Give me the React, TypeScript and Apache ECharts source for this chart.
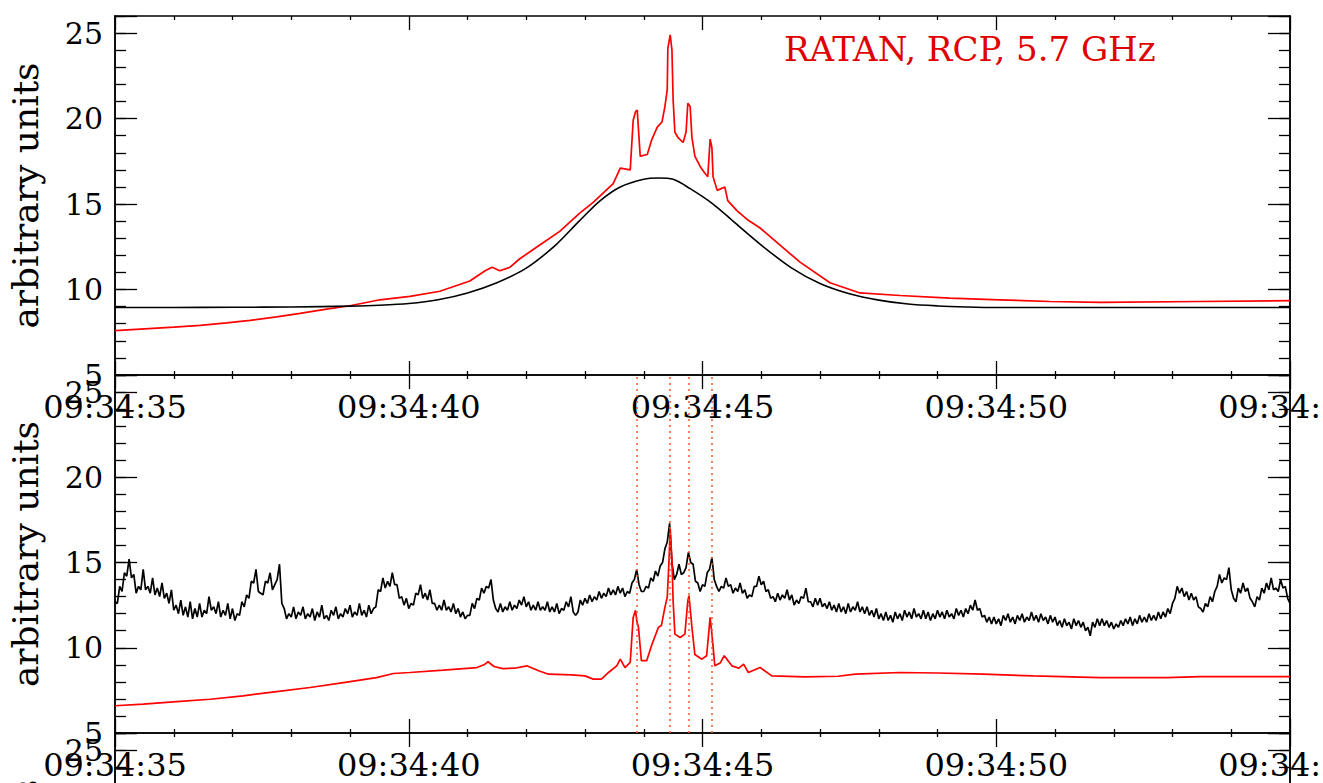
import React, { useEffect, useRef } from "react";
import * as echarts from "echarts";

// ---- axis ranges & ticks ----
const X_MIN = 35; // seconds after 09:34:00
const X_MAX = 55;
const X_INTERVAL = 5;
const Y_MIN = 5;
const Y_MAX = 26;
const Y_MAJOR = 5;
const Y_MINOR = 1;
const TIME_PREFIX = "09:34:";

const titleText = "RATAN, RCP, 5.7 GHz";
const yName = "arbitrary units";

// ---- top panel: RCP flux (red) and smooth fit (black) [t, value] ----
const topRed: [number, number][] = [
  [35.0, 7.6], [35.5, 7.7], [36.0, 7.8], [36.45, 7.9], [36.9, 8.05], [37.3, 8.2],
  [37.75, 8.4], [38.15, 8.6], [38.6, 8.85], [39.0, 9.05], [39.51, 9.4], [40.02, 9.6],
  [40.53, 9.9], [41.04, 10.5], [41.3, 11.1], [41.42, 11.3], [41.55, 11.1], [41.72, 11.3],
  [41.89, 11.8], [42.23, 12.6], [42.57, 13.4], [42.91, 14.47], [43.14, 15.1], [43.48, 16.2],
  [43.6, 17.1], [43.77, 17.0], [43.82, 19.9], [43.86, 20.4], [43.89, 20.5], [43.9, 19.9],
  [43.94, 17.8], [44.06, 17.9], [44.14, 18.8], [44.23, 19.5], [44.31, 19.8], [44.36, 20.7],
  [44.4, 21.7], [44.41, 24.1], [44.45, 24.9], [44.48, 24.0], [44.5, 21.1], [44.53, 19.2],
  [44.58, 18.9], [44.67, 18.6], [44.72, 19.2], [44.75, 20.9], [44.79, 20.7], [44.82, 18.9],
  [44.87, 17.8], [44.96, 17.2], [45.04, 16.8], [45.09, 16.6], [45.13, 18.8], [45.16, 18.3],
  [45.18, 16.6], [45.25, 15.8], [45.38, 16.0], [45.43, 15.2], [45.59, 14.6], [45.76, 14.1],
  [45.98, 13.6], [46.32, 12.6], [46.66, 11.6], [47.17, 10.4], [47.68, 9.8], [48.36, 9.65],
  [49.21, 9.5], [50.06, 9.4], [50.91, 9.3], [51.77, 9.25], [53.47, 9.3], [55.0, 9.35],
];

const topBlack: [number, number][] = [
  [35, 8.95], [36, 8.95], [37, 8.96], [38, 8.98], [39, 9.03], [39.5, 9.08], [40, 9.18],
  [40.5, 9.4], [41, 9.8], [41.5, 10.4], [42, 11.25], [42.5, 12.6], [42.9, 14.0],
  [43.26, 15.2], [43.6, 16.0], [44.0, 16.45], [44.25, 16.52], [44.5, 16.45], [44.79, 15.9],
  [45.18, 15.0], [45.52, 14.0], [46.0, 12.6], [46.5, 11.3], [47.0, 10.35], [47.5, 9.75],
  [48.0, 9.38], [48.5, 9.15], [49.0, 9.04], [49.5, 8.98], [50, 8.95], [55, 8.95],
];

// ---- bottom panel: red flux [t, value] ----
const bottomRed: [number, number][] = [
  [35.0, 6.6], [35.48, 6.69], [36.05, 6.84], [36.62, 6.98], [37.18, 7.18], [37.75, 7.43],
  [38.32, 7.67], [38.89, 7.96], [39.45, 8.25], [39.74, 8.49], [40.02, 8.55], [40.59, 8.69],
  [41.16, 8.84], [41.28, 9.0], [41.35, 9.18], [41.45, 8.9], [41.6, 8.78], [41.8, 8.8],
  [42.01, 8.94], [42.21, 8.65], [42.38, 8.45], [42.77, 8.41], [43.0, 8.35], [43.14, 8.16],
  [43.28, 8.16], [43.4, 8.55], [43.54, 8.94], [43.6, 9.33], [43.68, 8.84], [43.77, 9.14],
  [43.82, 11.78], [43.86, 12.2], [43.88, 11.6], [43.91, 11.2], [43.96, 9.24], [44.05, 9.24],
  [44.14, 10.2], [44.25, 11.2], [44.3, 11.3], [44.36, 12.37], [44.4, 12.96], [44.43, 15.12],
  [44.45, 17.0], [44.48, 15.12], [44.5, 12.76], [44.53, 10.8], [44.62, 10.6], [44.7, 10.8],
  [44.75, 12.76], [44.77, 13.06], [44.82, 11.2], [44.87, 9.6], [44.99, 9.33], [45.07, 9.53],
  [45.13, 11.78], [45.16, 10.8], [45.21, 8.94], [45.3, 9.1], [45.37, 9.53], [45.5, 8.94],
  [45.62, 8.8], [45.7, 9.04], [45.78, 8.55], [45.98, 8.84], [46.18, 8.35], [46.75, 8.29],
  [47.31, 8.33], [47.6, 8.45], [48.36, 8.55], [49.0, 8.52], [49.78, 8.45], [50.63, 8.35],
  [51.77, 8.25], [52.9, 8.25], [53.47, 8.31], [55.0, 8.31],
];

// ---- bottom panel: black noisy flux, sampled every 0.04 s from 35.00 s ----
const bottomBlackStart = 35;
const bottomBlackStep = 0.04;
const bottomBlackValues: number[] = [
  12.7, 12.6, 13.6, 13.3, 14.4, 14.2, 15.2, 14.1, 14.3, 13.2, 13.6, 13.4, 14.6, 13.4, 13.6, 13.2, 14.1, 13.1, 13.5, 13.0,
  13.8, 12.9, 13.2, 12.6, 13.4, 12.2, 12.5, 12.0, 12.8, 11.9, 12.4, 11.8, 12.7, 11.7, 12.3, 11.8, 12.6, 11.8, 12.2, 12.0,
  13.0, 12.2, 12.4, 12.0, 12.7, 11.8, 12.2, 11.9, 12.6, 11.7, 12.3, 11.6, 12.0, 11.9, 12.7, 12.4, 13.1, 12.9, 13.9, 13.8,
  14.6, 13.3, 13.2, 13.1, 13.9, 13.8, 14.4, 13.4, 13.7, 14.0, 14.9, 12.6, 12.3, 11.7, 12.0, 11.8, 12.4, 11.7, 12.1, 11.9,
  12.4, 11.7, 12.0, 11.8, 12.3, 11.6, 12.1, 11.8, 12.5, 11.7, 11.9, 11.6, 12.2, 11.9, 12.4, 11.7, 12.0, 11.8, 12.3, 12.0,
  12.5, 11.8, 12.1, 11.9, 12.6, 11.9, 12.2, 11.8, 12.5, 12.0, 12.3, 12.4, 13.4, 13.3, 14.1, 13.5, 13.9, 13.6, 14.4, 13.7,
  13.7, 12.9, 13.0, 12.5, 12.9, 12.3, 12.6, 12.5, 13.2, 13.1, 13.7, 12.9, 13.2, 12.8, 13.4, 12.6, 12.6, 12.2, 12.5, 12.2,
  12.8, 12.2, 12.4, 12.1, 12.6, 12.0, 12.3, 11.8, 12.1, 11.7, 11.9, 11.9, 12.6, 12.3, 12.9, 12.8, 13.5, 13.2, 13.6, 13.5,
  14.0, 12.8, 12.3, 12.1, 12.6, 12.1, 12.4, 12.2, 12.7, 12.2, 12.5, 12.3, 12.8, 12.5, 13.0, 12.4, 12.7, 12.2, 12.5, 12.2,
  12.7, 12.2, 12.4, 12.2, 12.7, 12.1, 12.4, 12.1, 12.6, 12.0, 12.3, 12.2, 12.7, 12.4, 13.0, 12.1, 11.9, 12.1, 12.8, 12.5,
  12.9, 12.6, 13.1, 12.7, 13.0, 12.8, 13.3, 12.9, 13.2, 13.0, 13.5, 13.1, 13.4, 13.1, 13.6, 13.2, 13.5, 13.0, 13.3, 13.2,
  13.8, 14.0, 14.6, 13.7, 13.3, 13.3, 13.6, 13.5, 14.1, 13.9, 14.5, 14.2, 14.8, 15.0, 15.8, 16.2, 17.3, 15.0, 14.0, 14.3,
  14.9, 14.3, 14.4, 14.7, 15.6, 15.0, 14.9, 13.9, 13.8, 13.3, 13.7, 13.6, 14.4, 14.6, 15.3, 14.0, 13.6, 13.3, 13.6, 13.5,
  14.1, 13.6, 13.7, 13.2, 13.5, 13.3, 13.8, 13.2, 13.4, 12.9, 13.1, 13.0, 13.6, 13.6, 14.2, 13.7, 13.9, 13.3, 13.4, 12.9,
  13.0, 12.7, 13.2, 12.8, 13.1, 12.9, 13.4, 12.8, 13.1, 12.5, 12.8, 12.6, 13.0, 12.9, 13.5, 12.7, 12.7, 12.4, 12.9, 12.5,
  12.9, 12.4, 12.6, 12.3, 12.7, 12.2, 12.5, 12.1, 12.6, 12.1, 12.4, 12.0, 12.6, 12.1, 12.4, 12.2, 12.7, 12.1, 12.4, 12.0,
  12.4, 11.9, 12.2, 11.8, 12.3, 11.7, 12.0, 11.6, 12.1, 11.6, 11.9, 11.5, 12.1, 11.7, 12.0, 11.6, 12.2, 11.8, 12.1, 11.7,
  12.3, 11.8, 12.0, 11.7, 12.2, 11.7, 12.1, 11.6, 12.0, 11.7, 12.2, 11.8, 12.1, 11.7, 12.2, 11.8, 12.0, 11.7, 12.3, 11.9,
  12.2, 11.8, 12.3, 12.0, 12.5, 12.2, 12.8, 12.2, 12.3, 11.8, 11.9, 11.5, 11.8, 11.4, 11.8, 11.4, 11.7, 11.3, 11.9, 11.6,
  12.0, 11.5, 11.8, 11.4, 11.9, 11.6, 12.0, 11.5, 11.8, 11.6, 12.1, 11.6, 11.9, 11.5, 12.0, 11.6, 11.8, 11.4, 11.9, 11.5,
  11.8, 11.3, 11.6, 11.2, 11.7, 11.3, 11.5, 11.1, 11.7, 11.3, 11.6, 11.2, 11.5, 11.0, 11.2, 10.7, 11.5, 11.2, 11.7, 11.3,
  11.7, 11.3, 11.6, 11.2, 11.5, 11.1, 11.4, 11.2, 11.6, 11.3, 11.7, 11.4, 11.8, 11.3, 11.7, 11.4, 11.9, 11.5, 11.8, 11.5,
  12.0, 11.6, 11.9, 11.6, 12.1, 11.7, 12.1, 11.8, 12.3, 12.0, 12.6, 12.9, 13.6, 13.2, 13.5, 13.0, 13.3, 12.8, 13.2, 12.8,
  13.0, 12.4, 12.3, 12.1, 12.6, 12.4, 13.0, 12.7, 13.3, 13.6, 14.3, 13.8, 14.1, 14.0, 14.7, 13.4, 12.9, 12.7, 13.5, 13.2,
  13.8, 13.3, 13.5, 12.9, 12.7, 12.4, 13.0, 12.8, 13.5, 13.2, 13.8, 13.4, 14.1, 13.4, 13.5, 13.3, 14.0, 13.5, 13.6, 12.9,
  12.6,
];

// times of the dotted markers in the lower panel
const markTimes = [43.885, 44.447, 44.77, 45.145];

const FONT = "DejaVu Serif";
const BLACK = "#000000";
const RED = "#ff0000";
const TITLE_RED = "#e00000";
const MARK_COLOR = "#ee5a2a";

// panel layout (pixels)
const PLOT_LEFT = 115;
const PLOT_WIDTH = 1175;
const PANELS = [
  { top: 16, height: 359 },
  { top: 375, height: 358 },
  { top: 733, height: 359 },
];

function buildAxes() {
  const grid: any[] = [];
  const xAxis: any[] = [];
  const yAxis: any[] = [];
  PANELS.forEach((p, gi) => {
    grid.push({
      left: PLOT_LEFT,
      top: p.top,
      width: PLOT_WIDTH,
      height: p.height,
      containLabel: false,
      outerBoundsMode: "none",
    });
    const xBase = {
      type: "value",
      gridIndex: gi,
      min: X_MIN,
      max: X_MAX,
      interval: X_INTERVAL,
      splitLine: { show: false },
      axisLine: { show: true, lineStyle: { color: BLACK, width: 1.5 } },
      axisTick: { show: true, inside: true, length: 14, lineStyle: { color: BLACK, width: 1.3 } },
      minorTick: { show: true, splitNumber: 5, length: 4, lineStyle: { color: BLACK, width: 1.3 } },
    };
    xAxis.push({
      ...xBase,
      position: "bottom",
      axisLabel: {
        show: true,
        margin: 16,
        color: BLACK,
        fontFamily: FONT,
        fontSize: 32,
        showMinLabel: true,
        showMaxLabel: true,
        hideOverlap: false,
        formatter: (v: number) => TIME_PREFIX + String(v).padStart(2, "0"),
      },
    });
    xAxis.push({ ...xBase, position: "top", axisLabel: { show: false } });

    const yBase = {
      type: "value",
      gridIndex: gi,
      min: Y_MIN,
      max: Y_MAX,
      splitLine: { show: false },
      axisLine: { show: true, lineStyle: { color: BLACK, width: 1.5 } },
    };
    const minorSide = (pos: string) => ({
      ...yBase,
      position: pos,
      interval: Y_MINOR,
      axisTick: { show: true, inside: true, length: 11, lineStyle: { color: BLACK, width: 1.3 } },
      axisLabel: { show: false },
    });
    const majorSide = (pos: string, labels: boolean) => ({
      ...yBase,
      position: pos,
      interval: Y_MAJOR,
      axisTick: { show: true, inside: true, length: 22, lineStyle: { color: BLACK, width: 1.3 } },
      axisLabel: labels
        ? {
            show: true,
            margin: 12,
            color: BLACK,
            fontFamily: FONT,
            fontSize: 30,
            showMinLabel: true,
            showMaxLabel: true,
            formatter: (v: number) => (v % Y_MAJOR === 0 ? String(v) : ""),
          }
        : { show: false },
      name: labels ? yName : "",
      nameLocation: "middle",
      nameGap: 72,
      nameRotate: 90,
      nameMoveOverlap: false,
      nameTextStyle: { color: BLACK, fontFamily: FONT, fontSize: 36 },
    });
    yAxis.push(minorSide("left"));
    yAxis.push(majorSide("left", true));
    yAxis.push(minorSide("right"));
    yAxis.push(majorSide("right", false));
  });
  return { grid, xAxis, yAxis };
}

function lineSeries(data: [number, number][], color: string, panel: number, extra: any = {}) {
  return {
    type: "line",
    data,
    xAxisIndex: panel * 2,
    yAxisIndex: panel * 4 + 1,
    showSymbol: false,
    symbol: "none",
    clip: true,
    lineStyle: { color, width: 1.7 },
    itemStyle: { color },
    silent: true,
    ...extra,
  };
}

export default function App() {
  const ref = useRef<HTMLDivElement | null>(null);

  useEffect(() => {
    if (!ref.current) return;
    const chart = echarts.init(ref.current, undefined, { renderer: "svg" });
    const { grid, xAxis, yAxis } = buildAxes();

    const bottomBlack: [number, number][] = bottomBlackValues.map((v, i) => [
      +(bottomBlackStart + i * bottomBlackStep).toFixed(3),
      v,
    ]);

    const option: any = {
      animation: false,
      backgroundColor: "#ffffff",
      grid,
      xAxis,
      yAxis,
      graphic: [
        {
          type: "text",
          left: 784,
          top: 32,
          style: {
            text: titleText,
            fill: TITLE_RED,
            font: `34px "${FONT}"`,
          },
        },
      ],
      series: [
        lineSeries(topRed, RED, 0, { z: 2 }),
        lineSeries(topBlack, BLACK, 0, { smooth: 0.3, z: 3, lineStyle: { color: BLACK, width: 1.6 } }),
        lineSeries(bottomBlack, BLACK, 1, { z: 2, lineStyle: { color: BLACK, width: 1.7 } }),
        lineSeries(bottomRed, RED, 1, {
          z: 3,
          markLine: {
            silent: true,
            symbol: ["none", "none"],
            label: { show: false },
            lineStyle: { color: MARK_COLOR, type: [2, 4], width: 1.5 },
            data: markTimes.map((t) => ({ xAxis: t })),
          },
        }),
      ],
    };
    chart.setOption(option);
    return () => chart.dispose();
  }, []);

  return (
    <div
      ref={ref}
      style={{ position: "fixed", left: 0, top: 0, width: 1323, height: 783, background: "#fff" }}
    />
  );
}
